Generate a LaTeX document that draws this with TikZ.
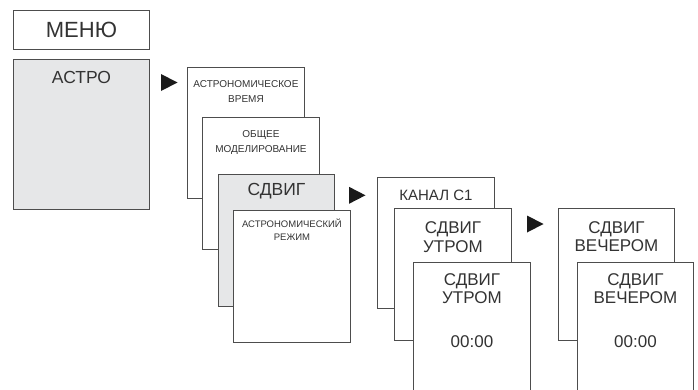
\documentclass[tikz,border=0pt]{standalone}
\usepackage{fontspec}
\setmainfont{Liberation Sans}
\definecolor{framegray}{HTML}{4D4D4D}
\definecolor{textgray}{HTML}{333333}
\definecolor{panelgray}{HTML}{E6E7E8}
\definecolor{tipblack}{HTML}{1A1A1A}

\begin{document}
\begin{tikzpicture}[x=1pt,y=-1pt,
  box/.style n args={2}{draw=framegray,line width=0.9pt,fill=white,anchor=north west,
    inner sep=0pt,minimum width=#1,minimum height=#2},
  txt/.style={text=textgray,inner sep=0pt,align=center,anchor=north},
  menutxt/.style={txt,anchor=center,font=\fontsize{22}{24}\selectfont},
  bigtxt/.style={txt,font=\fontsize{17.5}{19}\selectfont},
  midtxt/.style={txt,font=\fontsize{15}{18}\selectfont},
  valtxt/.style={txt,font=\fontsize{17}{18.3}\selectfont},
  smalltxt/.style={txt,font=\fontsize{10}{15}\selectfont},
  tinytxt/.style={txt,font=\fontsize{9.5}{13}\selectfont}]
  \useasboundingbox (0,0) rectangle (698,389);

  % menu column
  \node[box={136}{39}] (menu) at (13,10) {};
  \node[menutxt] (menut) at (menu.center) {МЕНЮ};
  \node[box={136}{150},fill=panelgray] (astro) at (13,59) {};
  \node[bigtxt] (astrot) at ([yshift=-11.7pt]astro.north) {АСТРО};

  % astro submenu
  \node[box={117}{131}] (a1) at (187,67) {};
  \node[smalltxt] (a1t) at ([yshift=-13pt]a1.north) {АСТРОНОМИЧЕСКОЕ\\ВРЕМЯ};
  \node[box={117}{132}] (a2) at (202,117) {};
  \node[smalltxt] (a2t) at ([yshift=-13pt]a2.north) {ОБЩЕЕ\\МОДЕЛИРОВАНИЕ};
  \node[box={116}{132},fill=panelgray] (a3) at (218,174) {};
  \node[bigtxt] (a3t) at ([yshift=-9pt]a3.north) {СДВИГ};
  \node[box={117}{132}] (a4) at (233,210) {};
  \node[tinytxt] (a4t) at ([yshift=-8.5pt]a4.north) {АСТРОНОМИЧЕСКИЙ\\РЕЖИМ};

  % channel / morning
  \node[box={117}{131}] (b1) at (377,177) {};
  \node[midtxt] (b1t) at ([yshift=-12.5pt]b1.north) {КАНАЛ C1};
  \node[box={117}{132}] (b2) at (394,208) {};
  \node[valtxt] (b2t) at ([yshift=-13.7pt]b2.north) {СДВИГ\\УТРОМ};
  \node[box={117}{140}] (b3) at (413,262) {};
  \node[valtxt] (b3t) at ([yshift=-11.3pt]b3.north) {СДВИГ\\УТРОМ};
  \node[valtxt] (b3v) at ([yshift=-73pt]b3.north) {00:00};

  % evening
  \node[box={116}{132}] (c1) at (558,208) {};
  \node[valtxt] (c1t) at ([yshift=-13pt]c1.north) {СДВИГ\\ВЕЧЕРОМ};
  \node[box={116}{140}] (c2) at (577,262) {};
  \node[valtxt] (c2t) at ([yshift=-11.3pt]c2.north) {СДВИГ\\ВЕЧЕРОМ};
  \node[valtxt] (c2v) at ([yshift=-73pt]c2.north) {00:00};

  % step markers
  \foreach \tx/\ty in {161/82.5,349/195.3,527/224}
    \fill[tipblack] (\tx,\ty-8.5) -- ++(16.5,8.5) -- ++(-16.5,8.5) -- cycle;
\end{tikzpicture}
\end{document}
